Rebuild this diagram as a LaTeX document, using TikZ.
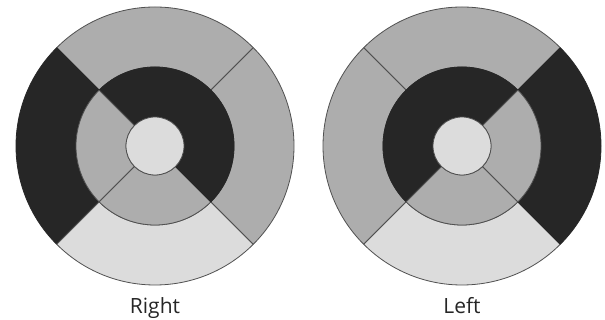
\documentclass[tikz,border=0pt]{standalone}
\usepackage{fontspec}
\setmainfont{Open Sans}
\usetikzlibrary{positioning}
\definecolor{mDark}{HTML}{262626}
\definecolor{mMid}{HTML}{ADADAD}
\definecolor{mLight}{HTML}{DCDCDC}
\definecolor{mLine}{HTML}{505050}

\begin{document}
\begin{tikzpicture}[x=1pt, y=1pt,
    seg/.style={draw=mLine, line width=0.8pt, line join=round},
    dk/.style={fill=mDark, draw=mDark},
    md/.style={fill=mMid},
    lt/.style={fill=mLight},
    eyelab/.style={anchor=base, font=\fontsize{21}{24}\selectfont, text=black!85}]
  \useasboundingbox (0,0) rectangle (605,320);
  \coordinate (rc) at (155,174);
  \coordinate (lc) at (462,174);
  % right eye: start angle / outer ring / middle ring
  \foreach \a/\oc/\mc in {45/md/dk, 135/dk/md, 225/lt/md, 315/md/dk} {
    \filldraw[seg, \oc] ([shift={(\a:79)}]rc) arc[start angle=\a, end angle=\a+90, radius=79]
      -- ([shift={(\a+90:139)}]rc) arc[start angle=\a+90, end angle=\a, radius=139] -- cycle;
    \filldraw[seg, \mc] ([shift={(\a:29)}]rc) arc[start angle=\a, end angle=\a+90, radius=29]
      -- ([shift={(\a+90:79)}]rc) arc[start angle=\a+90, end angle=\a, radius=79] -- cycle;
  }
  \filldraw[seg, lt] (rc) circle[radius=29];
  % left eye
  \foreach \a/\oc/\mc in {45/md/dk, 135/md/dk, 225/lt/md, 315/dk/md} {
    \filldraw[seg, \oc] ([shift={(\a:79)}]lc) arc[start angle=\a, end angle=\a+90, radius=79]
      -- ([shift={(\a+90:139)}]lc) arc[start angle=\a+90, end angle=\a, radius=139] -- cycle;
    \filldraw[seg, \mc] ([shift={(\a:29)}]lc) arc[start angle=\a, end angle=\a+90, radius=29]
      -- ([shift={(\a+90:79)}]lc) arc[start angle=\a+90, end angle=\a, radius=79] -- cycle;
  }
  \filldraw[seg, lt] (lc) circle[radius=29];
  \node[eyelab] (rlab) at (155,6.5) {Right};
  \node[eyelab] (llab) at (462,6.5) {Left};
\end{tikzpicture}
\end{document}
